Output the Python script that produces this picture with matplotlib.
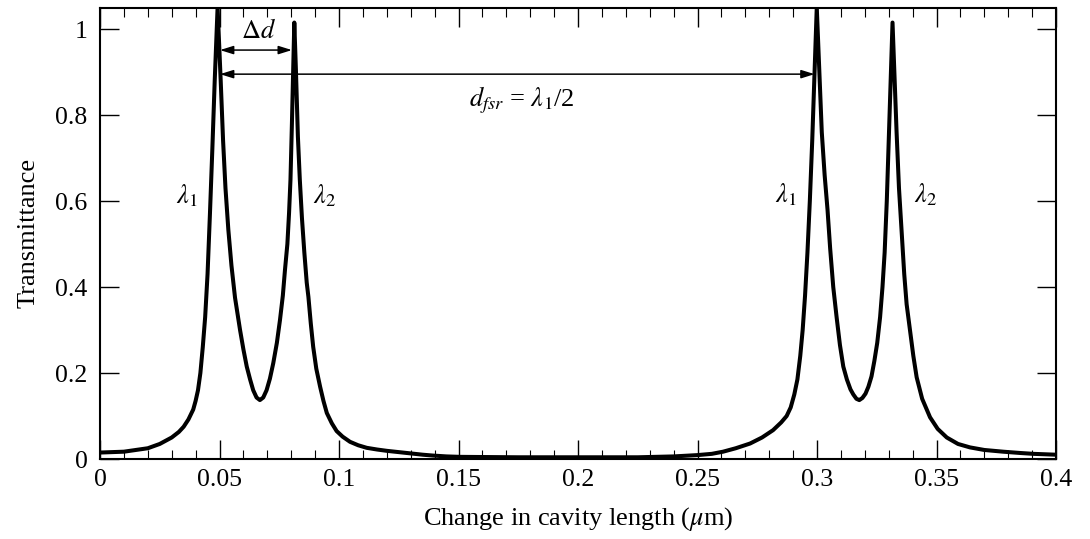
import matplotlib
matplotlib.use("Agg")
import matplotlib.pyplot as plt

# Values
cavity_change = [
    0.0000, 0.0100, 0.0200, 0.0250, 0.0300, 0.0330, 0.0350, 0.0370, 0.0390, 0.0400,
    0.0410, 0.0420, 0.0430, 0.0440, 0.0450, 0.0460, 0.0470, 0.0480, 0.0492,
    0.0505, 0.0515, 0.0525, 0.0537, 0.0550, 0.0565, 0.0586, 0.0600, 0.0614, 0.0628,
    0.0641, 0.0655, 0.0669, 0.0683, 0.0697, 0.0711, 0.0725, 0.0740, 0.0753, 0.0765,
    0.0774, 0.0784, 0.0791, 0.0797, 0.0803, 0.0808, 0.0813,
    0.0820, 0.0828, 0.0836, 0.0845, 0.0855, 0.0865, 0.0872, 0.0882, 0.0892, 0.0905,
    0.0921, 0.0935, 0.0949, 0.0970, 0.0990, 0.1015, 0.1046, 0.1080, 0.1116, 0.1160,
    0.1200, 0.1250, 0.1297, 0.1350, 0.1393, 0.1450, 0.1506, 0.1750, 0.2008, 0.2250,
    0.2400, 0.2498, 0.2560, 0.2607, 0.2660, 0.2720, 0.2770, 0.2816, 0.2850, 0.2873,
    0.2890, 0.2905, 0.2918, 0.2930, 0.2940, 0.2950, 0.2960, 0.2970, 0.2980, 0.2990,
    0.2999,
    0.3010, 0.3020, 0.3032, 0.3044, 0.3055, 0.3068, 0.3082, 0.3096, 0.3110, 0.3125,
    0.3140, 0.3152, 0.3165, 0.3177, 0.3190, 0.3203, 0.3215, 0.3228, 0.3240, 0.3252,
    0.3264, 0.3274, 0.3283, 0.3292, 0.3300, 0.3308, 0.3316,
    0.3325, 0.3333, 0.3343, 0.3354, 0.3365, 0.3375, 0.3389, 0.3403, 0.3417, 0.3440,
    0.3473, 0.3505, 0.3543, 0.3590, 0.3640, 0.3700, 0.3779, 0.3850, 0.3905, 0.4000,
]
transmittance = [
    0.015, 0.017, 0.025, 0.035, 0.050, 0.063, 0.075, 0.092, 0.115, 0.135,
    0.160, 0.200, 0.260, 0.330, 0.430, 0.570, 0.720, 0.880, 1.050,
    0.880, 0.740, 0.630, 0.533, 0.450, 0.375, 0.300, 0.255, 0.215, 0.185,
    0.160, 0.143, 0.137, 0.143, 0.160, 0.187, 0.223, 0.270, 0.323, 0.380,
    0.440, 0.500, 0.572, 0.650, 0.780, 0.900, 1.015,
    0.900, 0.750, 0.650, 0.560, 0.480, 0.410, 0.377, 0.315, 0.261, 0.210,
    0.168, 0.135, 0.107, 0.083, 0.065, 0.052, 0.040, 0.032, 0.026, 0.022,
    0.019, 0.016, 0.013, 0.010, 0.008, 0.006, 0.005, 0.004, 0.004, 0.004,
    0.006, 0.009, 0.012, 0.017, 0.025, 0.036, 0.050, 0.067, 0.085, 0.100,
    0.120, 0.150, 0.185, 0.240, 0.300, 0.380, 0.480, 0.600, 0.740, 0.900,
    1.050,
    0.900, 0.760, 0.660, 0.580, 0.490, 0.400, 0.330, 0.265, 0.215, 0.185,
    0.162, 0.150, 0.140, 0.137, 0.142, 0.152, 0.168, 0.192, 0.228, 0.270,
    0.330, 0.400, 0.480, 0.600, 0.740, 0.880, 1.015,
    0.880, 0.760, 0.630, 0.530, 0.430, 0.360, 0.300, 0.240, 0.190, 0.140,
    0.097, 0.070, 0.050, 0.035, 0.027, 0.021, 0.017, 0.014, 0.012, 0.010,
]

x_ticks = [0, 0.05, 0.1, 0.15, 0.2, 0.25, 0.3, 0.35, 0.4]
x_tick_labels = ["0", "0.05", "0.1", "0.15", "0.2", "0.25", "0.3", "0.35", "0.4"]
y_ticks = [0, 0.2, 0.4, 0.6, 0.8, 1.0]
y_tick_labels = ["0", "0.2", "0.4", "0.6", "0.8", "1"]

peak_labels = [r"$\lambda_1$", r"$\lambda_2$", r"$\lambda_1$", r"$\lambda_2$"]
peak_label_x = [0.0364, 0.0940, 0.2870, 0.3456]
peak_label_y = [0.612, 0.612, 0.614, 0.614]

plt.rcParams["font.family"] = ["Liberation Serif", "DejaVu Serif"]
plt.rcParams["mathtext.fontset"] = "stix"

fig = plt.figure(figsize=(10.9, 5.39), dpi=100)
ax = fig.add_axes([100 / 1090, 80 / 539, 956 / 1090, 451.5 / 539])

ax.plot(cavity_change, transmittance, color="black", lw=2.9,
        solid_joinstyle="round", solid_capstyle="round")

ax.set_xlim(0, 0.4)
ax.set_ylim(0, 1.05)
ax.set_xticks(x_ticks)
ax.set_xticklabels(x_tick_labels)
ax.set_yticks(y_ticks)
ax.set_yticklabels(y_tick_labels)
ax.set_xticks([i * 0.01 for i in range(41)], minor=True)

ax.tick_params(which="both", direction="in", top=True, right=True,
               labelsize=18.5, color="black")
ax.tick_params(axis="x", which="major", length=14, width=1.0, pad=7)
ax.tick_params(axis="x", which="minor", length=6.5, width=0.8)
ax.tick_params(axis="y", which="major", length=14, width=1.0, pad=9)
for s in ax.spines.values():
    s.set_linewidth(1.5)

ax.set_xlabel(r"Change in cavity length ($\mu$m)", fontsize=19, labelpad=10)
ax.set_ylabel("Transmittance", fontsize=19, labelpad=11)

# annotations
arrow_kw = dict(arrowstyle="<|-|>,head_length=0.8,head_width=0.25",
                color="black", lw=1.1, shrinkA=0, shrinkB=0)
ax.annotate("", xy=(0.0502, 0.951), xytext=(0.0803, 0.951), arrowprops=arrow_kw)
ax.annotate("", xy=(0.0502, 0.895), xytext=(0.2990, 0.895), arrowprops=arrow_kw)
ax.text(0.0665, 0.995, r"$\Delta d$", fontsize=19, ha="center", va="center")
ax.text(0.1765, 0.835, r"$d_{fsr}$ = $\lambda_1$/2", fontsize=19,
        ha="center", va="center")
for lab, lx, ly in zip(peak_labels, peak_label_x, peak_label_y):
    ax.text(lx, ly, lab, fontsize=19, ha="center", va="center")

fig.savefig("out.png", dpi=100)
